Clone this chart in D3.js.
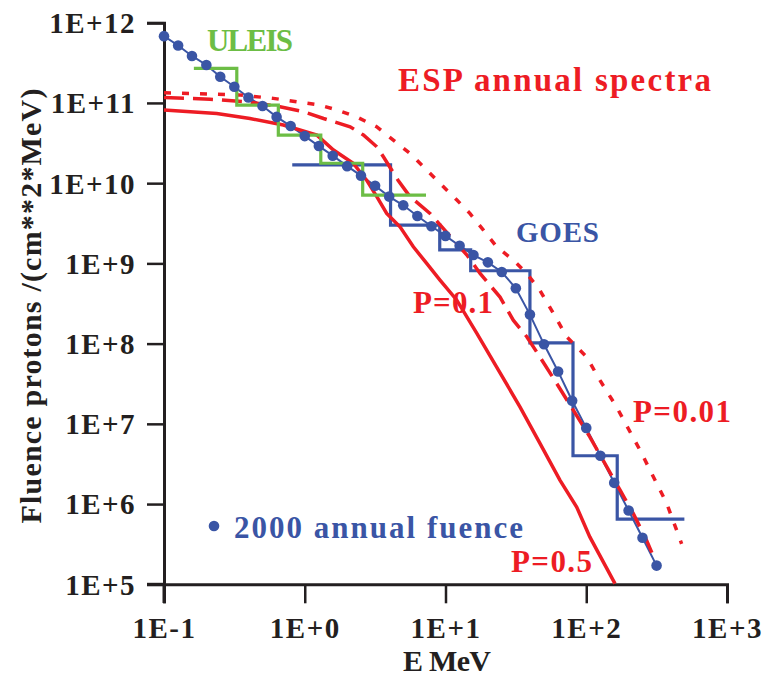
<!DOCTYPE html>
<html><head><meta charset="utf-8">
<script src="https://cdn.jsdelivr.net/npm/d3@7"></script>
<style>body{margin:0;background:#fff}</style>
</head><body>
<svg id="chart" width="764" height="680"></svg>
<script>
// ---- data ----
const xTickValues = [0.1, 1, 10, 100, 1000];
const xTickLabels = ["1E-1", "1E+0", "1E+1", "1E+2", "1E+3"];
const yTickValues = [1e5, 1e6, 1e7, 1e8, 1e9, 1e10, 1e11, 1e12];
const yTickLabels = ["1E+5", "1E+6", "1E+7", "1E+8", "1E+9", "1E+10", "1E+11", "1E+12"];

// 2000 annual fluence (dots)
const dotE = [0.1, 0.126, 0.158, 0.2, 0.251, 0.316, 0.398, 0.501, 0.631, 0.794, 1.0, 1.26, 1.58, 2.0, 2.51, 3.16, 3.98, 5.01, 6.31, 7.94, 10, 12.6, 15.8, 20, 25.1, 31.6, 39.8, 50.1, 63.1, 79.4, 100, 126, 158, 200, 251, 316];
const dotF = [6.8e11, 5.2e11, 3.85e11, 2.97e11, 2.12e11, 1.59e11, 1.17e11, 9.15e10, 6.7e10, 5.15e10, 3.86e10, 2.9e10, 2.2e10, 1.63e10, 1.24e10, 9.3e9, 6.8e9, 5.3e9, 3.9e9, 2.9e9, 2.2e9, 1.66e9, 1.27e9, 1.03e9, 7.8e8, 4.9e8, 2.3e8, 9.8e7, 4.5e7, 1.94e7, 8.9e6, 4.0e6, 1.84e6, 8.3e5, 3.8e5, 1.71e5];

// GOES histogram
const goesEdges = [0.815, 4.07, 9.1, 15.1, 39.8, 80.5, 166, 498];
const goesF = [1.69e10, 3.0e9, 1.47e9, 8.1e8, 1.02e8, 4.0e6, 6.5e5];

// ULEIS histogram
const uleisEdges = [0.163, 0.329, 0.649, 1.30, 2.58, 7.27];
const uleisF = [2.7e11, 9.4e10, 3.98e10, 1.77e10, 7.1e9];

// ESP annual spectra
const p05E = [0.1, 0.237, 0.408, 0.705, 1.22, 1.60, 2.21, 2.75, 3.25, 3.82, 4.75, 5.91, 7.35, 9.14, 12.0, 16.7, 23.1, 33.8, 46.9, 65, 85.5, 106, 160];
const p05F = [8.15e10, 7.4e10, 6.4e10, 5.3e10, 3.97e10, 2.59e10, 1.77e10, 1.09e10, 6.8e9, 4.2e9, 2.86e9, 1.61e9, 1.0e9, 6.2e8, 3.5e8, 1.34e8, 5.1e7, 1.63e7, 5.7e6, 1.99e6, 9.2e5, 3.9e5, 1.02e5];

const p01E = [0.1, 0.212, 0.387, 0.667, 0.976, 1.36, 2.10, 2.61, 3.25, 3.62, 4.60, 5.59, 7.76, 11.4, 14.2, 17.6, 24.4, 30.3, 37.8, 46.9, 61.6, 80.9, 106, 140, 174, 216, 269, 308];
const p01F = [1.17e11, 1.11e11, 1.035e11, 8.97e10, 7.8e10, 6.4e10, 5.05e10, 3.98e10, 2.84e10, 2.13e10, 1.09e10, 6.8e9, 4.2e9, 1.95e9, 1.27e9, 7.5e8, 3.8e8, 1.96e8, 1.22e8, 6.8e7, 3.2e7, 1.48e7, 6.9e6, 2.9e6, 1.49e6, 7.6e5, 3.5e5, 2.0e5];

const p001E = [0.1, 0.337, 0.598, 0.877, 1.28, 1.69, 2.34, 3.24, 4.26, 5.59, 7.35, 9.14, 12.0, 14.9, 18.6, 23.1, 30.3, 37.8, 46.9, 58.3, 72.6, 100.7, 125, 164, 241, 373, 476];
const p001F = [1.34e11, 1.26e11, 1.14e11, 1.035e11, 9.4e10, 8.2e10, 6.7e10, 5.05e10, 3.44e10, 2.35e10, 1.46e10, 9.95e9, 6.2e9, 4.2e9, 2.6e9, 1.61e9, 1.1e9, 7.5e8, 4.6e8, 2.4e8, 1.22e8, 6.8e7, 3.5e7, 1.63e7, 4.7e6, 1.02e6, 3.2e5];

// ---- chart ----
const RED = "#ed1c24", BLUE = "#3a55a5", GREEN = "#6cbd45", AX = "#231f20";
const FONT = "'Liberation Serif', serif";
const svg = d3.select("#chart");
const x = d3.scaleLog().domain([0.1, 1000]).range([164, 727]);
const y = d3.scaleLog().domain([1e5, 1e12]).range([584.3, 22.7]);

const zip = (a, b) => a.map((v, i) => [v, b[i]]);
const line = d3.line().x(d => x(d[0])).y(d => y(d[1]));
const stepLine = d3.line().x(d => x(d[0])).y(d => y(d[1])).curve(d3.curveStepAfter);
const stepPts = (edges, vals) => vals.map((v, i) => [edges[i], v]).concat([[edges[edges.length - 1], vals[vals.length - 1]]]);

// minor ticks
const minorX = [], minorY = [];
for (let d = -1; d < 3; d++) for (let k = 2; k <= 9; k++) minorX.push(k * Math.pow(10, d));
for (let d = 5; d < 12; d++) for (let k = 2; k <= 9; k++) minorY.push(k * Math.pow(10, d));

// axes
const gx = svg.append("g").attr("transform", "translate(0,584.3)");
gx.call(d3.axisBottom(x).tickValues(minorX).tickSize(10).tickFormat(""));
gx.call(d3.axisBottom(x).tickValues(xTickValues).tickSize(19).tickPadding(14).tickFormat((d, i) => xTickLabels[i]));
const gy = svg.append("g").attr("transform", "translate(164,0)");
gy.call(d3.axisLeft(y).tickValues(minorY).tickSize(8).tickFormat(""));
gy.call(d3.axisLeft(y).tickValues(yTickValues).tickSize(17).tickPadding(11).tickFormat((d, i) => yTickLabels[i]));
[gx, gy].forEach(g => {
  g.selectAll("path.domain").attr("stroke", AX).attr("stroke-width", 3);
  g.selectAll(".tick line").attr("stroke", AX).attr("stroke-width", 2.5);
  g.selectAll(".tick text").attr("fill", "#231f20").style("font-family", FONT)
    .style("font-weight", "bold").style("font-size", "29px").style("letter-spacing", "1.5px");
});
gy.selectAll(".tick text").attr("dy", "0.34em");
gx.selectAll(".tick text").attr("dy", "0.71em");
// extend x axis line a bit left of y axis (as in reference)
svg.append("line").attr("x1", 147).attr("x2", 164).attr("y1", 584.3).attr("y2", 584.3).attr("stroke", AX).attr("stroke-width", 3);
svg.append("line").attr("x1", 164).attr("x2", 164).attr("y1", 584.3).attr("y2", 603).attr("stroke", AX).attr("stroke-width", 3);

// GOES step
svg.append("path").attr("d", stepLine(stepPts(goesEdges, goesF))).attr("fill", "none").attr("stroke", BLUE).attr("stroke-width", 3.2);

// dots line
svg.append("path").attr("d", line(zip(dotE, dotF))).attr("fill", "none").attr("stroke", BLUE).attr("stroke-width", 2);

// red curves
svg.append("path").attr("d", line(zip(p05E, p05F))).attr("fill", "none").attr("stroke", RED).attr("stroke-width", 3.5);
svg.append("path").attr("d", line(zip(p01E, p01F))).attr("fill", "none").attr("stroke", RED).attr("stroke-width", 3.5).attr("stroke-dasharray", "20,9");
svg.append("path").attr("d", line(zip(p001E, p001F))).attr("fill", "none").attr("stroke", RED).attr("stroke-width", 3.5).attr("stroke-dasharray", "7,11");

// ULEIS step
svg.append("path").attr("d", stepLine(stepPts(uleisEdges, uleisF))).attr("fill", "none").attr("stroke", GREEN).attr("stroke-width", 3.2);

// dots
svg.append("g").selectAll("circle").data(zip(dotE, dotF)).join("circle")
  .attr("cx", d => x(d[0])).attr("cy", d => y(d[1])).attr("r", 5.3).attr("fill", BLUE);

// labels
function label(txt, px, py, color, size, len) {
  const t = svg.append("text").attr("x", px).attr("y", py).attr("fill", color)
    .style("font-family", FONT).style("font-weight", "bold").style("font-size", size + "px").text(txt);
  if (len) t.attr("textLength", len).attr("lengthAdjust", "spacing");
  return t;
}
label("ULEIS", 207, 50.7, GREEN, 31, 86);
label("ESP annual spectra", 398, 90.7, RED, 33, 313);
label("GOES", 516, 242.3, BLUE, 29, 83);
label("P=0.1", 413, 313.3, RED, 31, 80);
label("P=0.01", 633, 421.7, RED, 31, 98);
label("P=0.5", 511, 571.7, RED, 31, 81);
svg.append("circle").attr("cx", 214).attr("cy", 526).attr("r", 5.3).attr("fill", BLUE);
label("2000 annual fuence", 234, 538.3, BLUE, 31, 289);

// axis titles
label("E MeV", 403, 671, AX, 30, 88);
svg.append("text").attr("transform", "translate(41,306) rotate(-90)").attr("text-anchor", "middle")
  .attr("fill", AX).style("font-family", FONT).style("font-weight", "bold").style("font-size", "30px")
  .attr("textLength", 435).attr("lengthAdjust", "spacing")
  .text("Fluence protons /(cm**2*MeV)");
</script>
</body></html>
